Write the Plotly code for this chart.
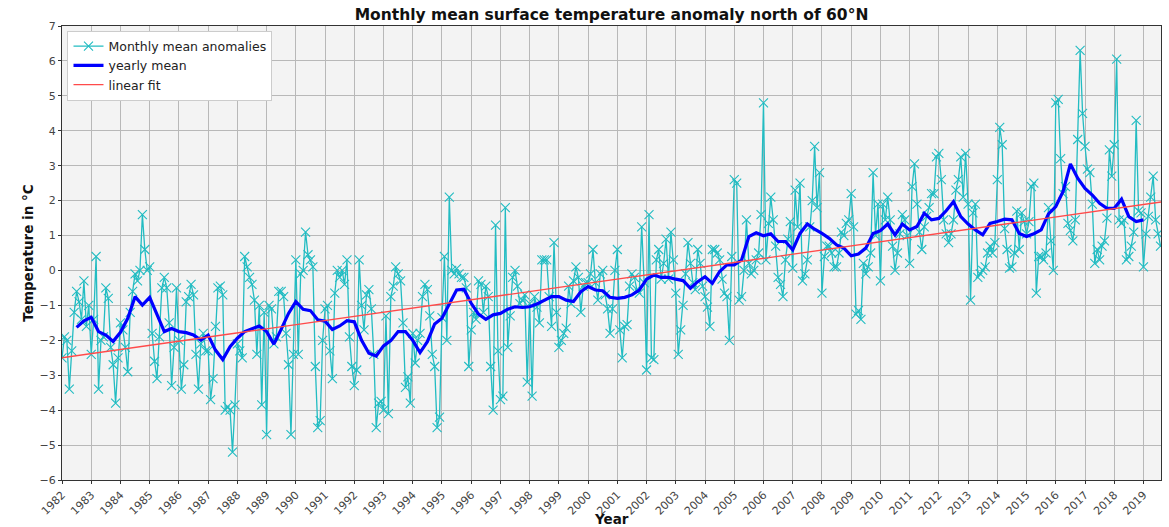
import plotly.graph_objects as go

start_year = 1982
# Monthly mean anomalies (deg C), Jan 1982 .. Aug 2019, one row per year
monthly_anomaly = [
    -2.5, -1.9, -2.0, -3.4, -2.3, -1.2, -0.6, -0.9, -1.4, -0.3, -1.6, -1.0,
    -2.4, -1.4, 0.4, -3.4, -2.0, -1.9, -0.5, -0.8, -2.2, -2.7, -3.8, -2.5,
    -1.5, -1.7, -2.2, -2.9, -1.2, -0.6, -0.1, -0.3, 0.0, 1.6, 0.6, 0.0,
    0.1, -1.8, -2.6, -3.1, -1.9, -0.5, -0.2, -0.5, -1.5, -3.3, -2.2, -0.5,
    -2.0, -3.4, -2.7, -0.9, -0.75, -0.4, -0.7, -2.4, -3.4, -2.1, -1.8, -2.3,
    -2.3, -3.7, -3.1, -1.6, -0.5, -0.45, -0.7, -4.0, -3.9, -4.0, -5.2, -3.85,
    -2.1, -2.3, -2.5, 0.4, 0.1, -0.2, -0.4, -0.85, -2.4, -1.0, -3.85, -1.2,
    -4.7, -1.0, -1.1, -2.1, -1.9, -0.6, -0.6, -0.75, -1.8, -2.7, -4.7, -2.4,
    0.3, -2.4, -0.1, 0.0, 1.1, 0.45, 0.3, 0.1, -2.75, -4.5, -4.3, -2.0,
    -1.1, -1.0, -2.3, -3.1, -0.65, 0.0, -0.2, 0.0, -0.4, 0.3, -1.9, -2.75,
    -3.3, -2.85, 0.3, -1.0, -1.7, -0.7, -0.55, -1.1, -2.4, -4.5, -3.8, -3.75,
    -4.0, -1.3, -4.1, -0.75, -0.45, 0.1, -0.1, -0.3, -1.5, -3.35, -3.05, -3.8,
    -1.8, -2.65, -2.0, -1.8, -0.75, -0.4, -0.55, -1.3, -2.4, -2.75, -4.5, -4.2,
    -1.35, 0.4, -2.0, 2.1, 0.0, -0.1, 0.05, -0.1, -0.2, -0.2, -0.5, -2.75,
    -1.7, -1.2, -1.4, -0.3, -0.4, -1.2, -0.45, -0.75, -2.75, -4.0, 1.3, -2.3,
    -3.7, -3.6, 1.8, -2.2, -1.3, -0.2, 0.0, -0.45, -0.95, -0.85, -0.7, -3.2,
    -0.95, -3.6, -0.75, -1.05, -1.5, 0.3, 0.3, 0.3, -0.75, -1.6, 0.8, -1.2,
    -2.2, -2.0, -1.8, -1.65, -0.45, -0.95, -0.3, 0.1, -0.2, -1.2, -0.45, -0.35,
    -0.35, -0.1, 0.6, -0.35, -0.85, -0.1, 0.0, -0.7, -1.1, -1.8, -1.1, 0.0,
    0.6, -1.7, -2.5, -1.6, -1.55, -0.45, -0.1, -0.2, -0.55, -0.65, 1.25, -0.35,
    -2.85, 1.6, -2.5, -2.55, 0.3, 0.6, -0.25, 0.2, 0.9, -0.25, 1.1, 0.3,
    -0.65, -2.4, -1.7, -1.0, -0.1, 0.8, 0.2, -0.35, -0.55, 0.6, 0.2, -0.45,
    -0.75, -1.05, -1.6, 0.6, 0.6, 0.5, 0.3, -0.25, -0.65, -0.75, -2.0, 0.4,
    2.6, 2.5, -0.85, -0.75, 0.0, 1.45, 0.2, -0.1, 0.0, 0.3, 0.5, 1.6,
    4.8, 0.3, 1.35, 2.1, 1.45, 0.7, -0.2, -0.4, -0.75, 0.3, 0.9, 1.4,
    0.07, 2.3, 1.25, 2.5, -0.3, -0.1, 0.3, 1.25, 2.0, 3.55, 1.8, 2.8,
    -0.65, 0.4, 0.7, 0.7, 0.5, 0.1, 0.1, 0.5, 1.1, 1.0, 1.35, 1.45,
    2.2, 1.25, -1.25, -1.15, -1.4, 0.2, -0.1, 0.1, 0.5, 2.8, 1.0, 1.9,
    -0.3, 1.9, 1.45, 2.1, 1.45, 0.7, 0.0, 0.5, 1.05, 1.6, 1.45, 1.0,
    0.2, 2.4, 3.05, 1.9, 1.1, 0.6, 1.25, 1.55, 1.8, 2.2, 2.2, 3.25,
    3.35, 2.6, 1.45, 1.05, 0.8, 1.05, 1.45, 2.3, 2.6, 3.25, 2.1, 3.35,
    1.9, -0.85, 1.65, 1.9, -0.2, -0.1, 0.0, 0.1, 0.5, 0.7, 0.5, 0.8,
    2.6, 4.1, 3.6, 1.2, 0.6, 0.07, 0.1, 0.5, 1.7, 0.6, 1.65, 1.4,
    1.05, 1.4, 2.4, 2.5, -0.65, 0.4, 0.4, 0.3, 0.5, 1.8, 0.85, 0.0,
    4.8, 4.9, 3.2, 2.2, 2.4, 1.35, 1.15, 0.85, 1.45, 3.75, 6.3, 4.5,
    3.55, 2.9, 2.8, 1.9, 0.2, 0.6, 0.3, 0.7, 0.85, 1.5, 3.45, 2.7,
    3.6, 6.05, 1.45, 1.35, 1.45, 0.3, 0.4, 0.7, 1.1, 4.3, 1.7, 1.65,
    0.1, 1.05, 1.55, 2.1, 2.7, 1.45, 1.05, 0.7,
]

# Yearly (12-month running) mean, read every quarter year from 1982.5 to 2019.0
yearly_mean_start = 1982.5
yearly_mean_step = 0.25
yearly_mean = [
    -1.63, -1.44,
    -1.34, -1.75, -1.85, -2.03,
    -1.77, -1.37, -0.75, -0.99,
    -0.77, -1.27, -1.75, -1.66,
    -1.75, -1.78, -1.85, -1.99,
    -1.85, -2.28, -2.55, -2.18,
    -1.94, -1.75, -1.66, -1.59,
    -1.75, -2.11, -1.68, -1.23,
    -0.89, -1.11, -1.15, -1.41,
    -1.45, -1.69, -1.59, -1.44,
    -1.47, -2.00, -2.37, -2.45,
    -2.16, -2.01, -1.75, -1.75,
    -2.00, -2.35, -2.04, -1.53,
    -1.37, -0.94, -0.56, -0.54,
    -0.94, -1.25, -1.40, -1.27,
    -1.23, -1.11, -1.04, -1.06,
    -1.04, -0.96, -0.85, -0.75,
    -0.75, -0.85, -0.89, -0.61,
    -0.46, -0.56, -0.58, -0.77,
    -0.80, -0.77, -0.70, -0.56,
    -0.25, -0.13, -0.20, -0.20,
    -0.25, -0.29, -0.51, -0.32,
    -0.18, -0.37, -0.03, 0.16,
    0.16, 0.30, 0.97, 1.08,
    0.99, 1.05, 0.83, 0.83,
    0.59, 1.06, 1.33, 1.18,
    1.06, 0.92, 0.73, 0.64,
    0.42, 0.47, 0.64, 1.06,
    1.14, 1.33, 1.02, 1.33,
    1.16, 1.26, 1.64, 1.45,
    1.49, 1.71, 1.97, 1.54,
    1.33, 1.16, 1.02, 1.35,
    1.40, 1.47, 1.45, 1.06,
    0.97, 1.05, 1.16, 1.62,
    1.83, 2.26, 3.05, 2.64,
    2.35, 2.16, 1.92, 1.78,
    1.78, 2.04, 1.54, 1.40,
    1.45,
]

# Linear fit end points
fit_years = [1982.0, 2019.6]
fit_values = [-2.5, 1.96]

year_ticks = list(range(1982, 2020))
y_ticks = list(range(-6, 8))

months_x = [start_year + i / 12 for i in range(len(monthly_anomaly))]
yearly_x = [yearly_mean_start + i * yearly_mean_step for i in range(len(yearly_mean))]

CYAN = "#22bcc2"
FONT = "DejaVu Sans"

fig = go.Figure()
fig.add_trace(go.Scatter(
    x=months_x, y=monthly_anomaly, mode="lines+markers",
    name="Monthly mean anomalies",
    line=dict(color=CYAN, width=1.3),
    marker=dict(symbol="x-thin", size=9, color=CYAN, line=dict(color=CYAN, width=1.1)),
))
fig.add_trace(go.Scatter(
    x=yearly_x, y=yearly_mean, mode="lines", name="yearly mean",
    line=dict(color="#0000ff", width=3.2),
))
fig.add_trace(go.Scatter(
    x=fit_years, y=fit_values, mode="lines", name="linear fit",
    line=dict(color="#ff4a4a", width=1.3),
))

axis_common = dict(
    showgrid=True, gridcolor="#b8b8b8", gridwidth=1,
    showline=True, linecolor="#333", linewidth=1.2, mirror=True,
    ticks="outside", ticklen=3, tickcolor="#333",
    tickfont=dict(family=FONT, size=11, color="#444"),
    zeroline=False, automargin=False,
)

fig.update_layout(
    width=1169, height=527,
    margin=dict(l=62, r=8, t=26, b=47, autoexpand=False),
    paper_bgcolor="white", plot_bgcolor="#f3f3f3",
    font=dict(family=FONT, color="#222"),
    title=dict(
        text="<b>Monthly mean surface temperature anomaly north of 60°N</b>",
        x=0.5, xanchor="center", xref="paper",
        y=1 - 15 / 527, yref="container", yanchor="middle",
        font=dict(family=FONT, size=15.5, color="#111"),
        automargin=False,
    ),
    xaxis=dict(
        range=[1982, 2019.6], tickmode="array", tickvals=year_ticks,
        ticktext=[str(y) for y in year_ticks], tickangle=-45,
        **axis_common,
    ),
    yaxis=dict(
        range=[-6, 7], tickmode="array", tickvals=y_ticks,
        ticktext=[str(v).replace("-", "\u2212") for v in y_ticks],
        title=dict(text="<b>Temperature in °C</b>", font=dict(family=FONT, size=13.5, color="#111"), standoff=2),
        **axis_common,
    ),
    legend=dict(
        x=0.005, y=0.99, xanchor="left", yanchor="top",
        bgcolor="white", bordercolor="#cccccc", borderwidth=1,
        font=dict(family=FONT, size=12.5, color="#222"),
        tracegroupgap=0, itemwidth=30,
    ),
    showlegend=True,
    annotations=[dict(
        text="<b>Year</b>", x=0.5, xref="paper", y=-(519 - 480) / 454, yref="paper",
        xanchor="center", yanchor="middle", showarrow=False,
        font=dict(family=FONT, size=13.5, color="#111"),
    )],
)

fig.write_html(
    "out.html",
    config={"displayModeBar": False},
    post_script="document.body.style.margin='0';document.body.style.overflow='hidden';",
)
